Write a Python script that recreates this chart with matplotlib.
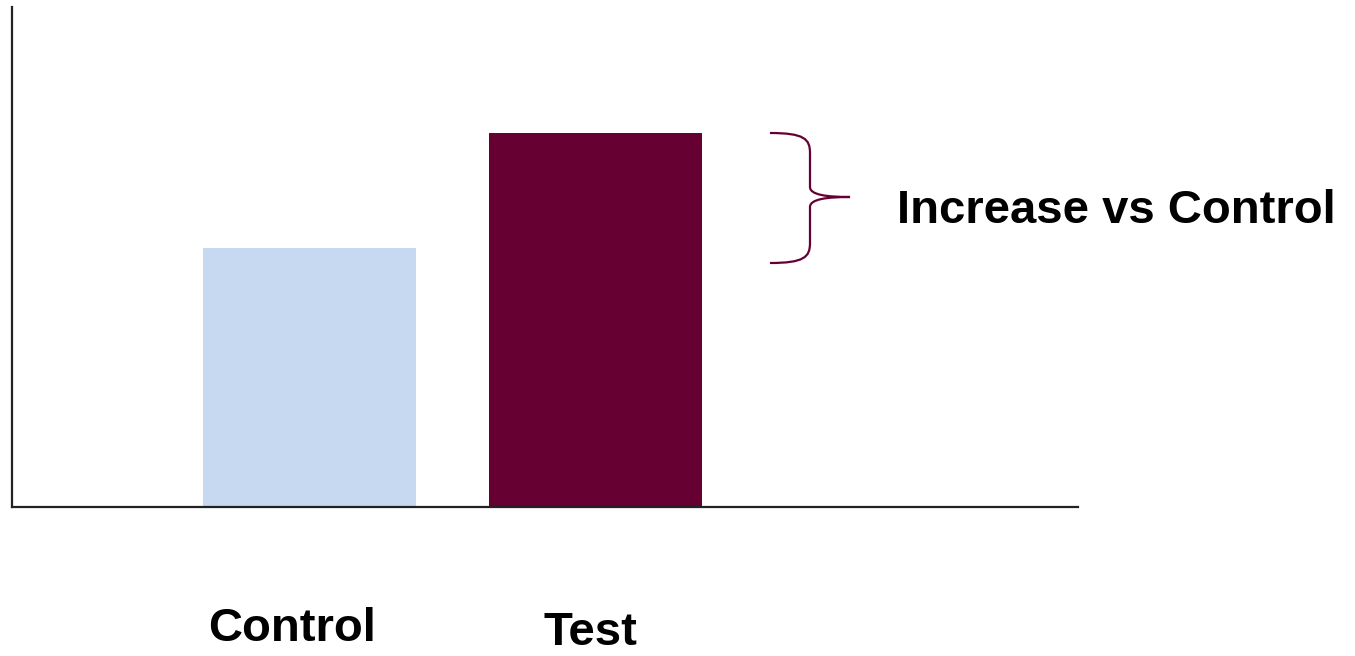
import matplotlib
matplotlib.use('Agg')
from matplotlib import pyplot as plt
from matplotlib.path import Path
from matplotlib.patches import PathPatch

plt.rcParams['font.family'] = ['Liberation Sans', 'DejaVu Sans']

categories = ['Control', 'Test']
values = [259, 374]
colors = ['#C6D9F1', '#660033']
brace_low = 244
brace_text = 'Increase vs Control'

fig = plt.figure(figsize=(13.55, 6.56), dpi=100)
ax = fig.add_axes([12 / 1355, 149 / 656, 1066 / 1355, 500 / 656])

x = [0, 1]
ax.bar(x, values, width=0.745, color=colors, zorder=1)
ax.set_xlim(-1.04, 2.687)
ax.set_ylim(0, 500)

for side in ['top', 'right']:
    ax.spines[side].set_visible(False)
for side in ['left', 'bottom']:
    ax.spines[side].set_color('#222222')
    ax.spines[side].set_linewidth(1.6)
    ax.spines[side].set_zorder(2)
ax.set_xticks([])
ax.set_yticks([])

# category labels under the axis
ax.text(x[0] - 0.06, -122, categories[0], ha='center', va='center',
        fontsize=34, fontweight='bold', clip_on=False)
ax.text(x[1] - 0.016, -126, categories[1], ha='center', va='center',
        fontsize=34, fontweight='bold', clip_on=False)

# curly brace between the two bar heights
top = values[1]
low = brace_low
mid = 310
x0, x1, x2 = 1.61, 1.75, 1.89
verts = [
    (x0, top), (x1 - 0.02, top), (x1, top - 6), (x1, top - 20),
    (x1, mid + 10),
    (x1, mid + 2), (x1 + 0.06, mid), (x2, mid),
    (x1 + 0.06, mid), (x1, mid - 2), (x1, mid - 10),
    (x1, low + 20),
    (x1, low + 6), (x1 - 0.02, low), (x0, low),
]
codes = [Path.MOVETO, Path.CURVE4, Path.CURVE4, Path.CURVE4,
         Path.LINETO,
         Path.CURVE4, Path.CURVE4, Path.CURVE4,
         Path.CURVE4, Path.CURVE4, Path.CURVE4,
         Path.LINETO,
         Path.CURVE4, Path.CURVE4, Path.CURVE4]
ax.add_patch(PathPatch(Path(verts, codes), facecolor='none',
                       edgecolor='#660033', linewidth=1.6, clip_on=False))

ax.text(2.054, 296, brace_text, ha='left', va='center',
        fontsize=34, fontweight='bold', clip_on=False)

fig.savefig('out.png', dpi=100)
